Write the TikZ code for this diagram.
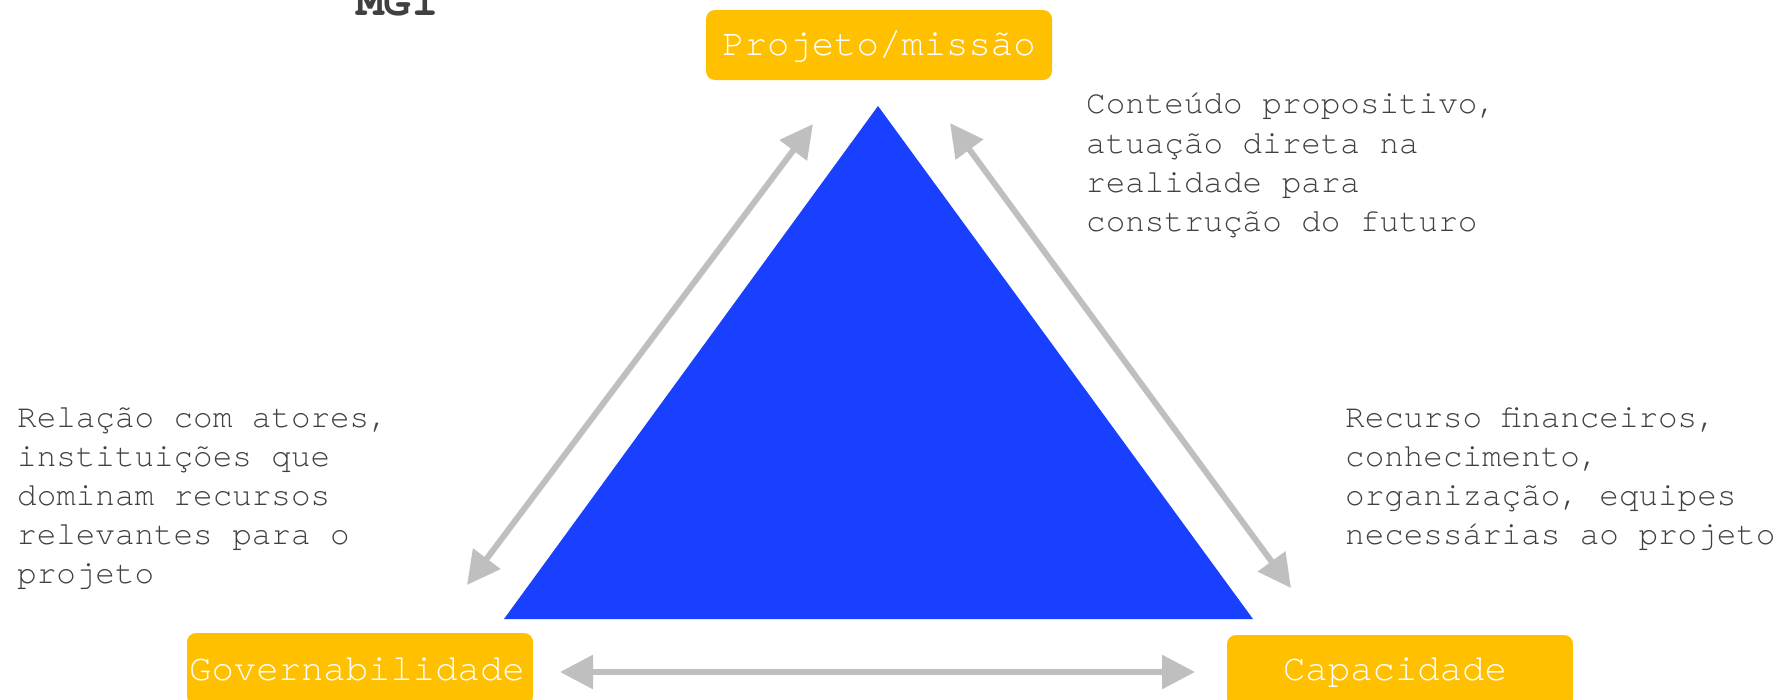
\documentclass[tikz,border=0pt]{standalone}
\usepackage{fontspec}
\newfontfamily\monofam[Extension=.otf,UprightFont=*-regular,BoldFont=*-bold]{texgyrecursor}
\usetikzlibrary{arrows.meta}
\definecolor{triblue}{HTML}{1A40FF}
\definecolor{boxgold}{HTML}{FFC000}
\definecolor{arrgray}{HTML}{BFBFBF}
\definecolor{txtgray}{HTML}{404040}
\begin{document}
\begin{tikzpicture}[x=1pt,y=-1pt,
  box/.style={fill=boxgold, rounded corners=9pt, draw=none, inner sep=0pt},
  boxtxt/.style={text=white, font=\monofam\fontsize{37.3}{40}\selectfont, inner sep=0pt, anchor=base},
  body/.style={text=txtgray, font=\monofam\fontsize{32.6}{40}\selectfont, inner sep=0pt, anchor=base west},
  dbl/.style={draw=arrgray, line width=6pt, {Triangle[length=33pt,width=33pt]}-{Triangle[length=33pt,width=33pt]}}
]
\useasboundingbox (0,0) rectangle (1780,699);

% title (cut off at top)
\node[text=txtgray, font=\monofam\bfseries\fontsize{46}{46}\selectfont, inner sep=0pt, anchor=base west] (mgi) at (356,15) {MGI};

% triangle
\coordinate (apex) at (878,106);
\coordinate (bl) at (504,619);
\coordinate (br) at (1253,619);
\fill[triblue] (apex) -- (bl) -- (br) -- cycle;

% boxes
\node[box, minimum width=346pt, minimum height=70pt] (projbox) at (879,45) {};
\node[boxtxt] (projtxt) at (879,55) {Projeto/missão};
\node[box, minimum width=346pt, minimum height=72pt] (govbox) at (360,669) {};
\node[boxtxt] (govtxt) at (357,680) {Governabilidade};
\node[box, minimum width=346pt, minimum height=72pt] (capbox) at (1400,671) {};
\node[boxtxt] (captxt) at (1395,680) {Capacidade};

% arrows
\coordinate (l1) at (467,585); \coordinate (l2) at (813,124);
\coordinate (r1) at (950,123); \coordinate (r2) at (1291,588);
\coordinate (b1) at (560,672); \coordinate (b2) at (1195,672);
\draw[dbl] (l1) -- (l2);
\draw[dbl] (r1) -- (r2);
\draw[dbl] (b1) -- (b2);

% texts
\node[body] (t1) at (1086,113) {Conteúdo propositivo,};
\node[body] (t2) at (1086,153) {atuação direta na};
\node[body] (t3) at (1086,192) {realidade para};
\node[body] (t4) at (1086,231) {construção do futuro};

\node[body] (g1) at (17,427) {Relação com atores,};
\node[body] (g2) at (17,466) {instituições que};
\node[body] (g3) at (17,505) {dominam recursos};
\node[body] (g4) at (17,544) {relevantes para o};
\node[body] (g5) at (17,583) {projeto};

\node[body] (c1) at (1345,427) {Recurso financeiros,};
\node[body] (c2) at (1345,466) {conhecimento,};
\node[body] (c3) at (1345,505) {organização, equipes};
\node[body] (c4) at (1345,544) {necessárias ao projeto};
\end{tikzpicture}
\end{document}
